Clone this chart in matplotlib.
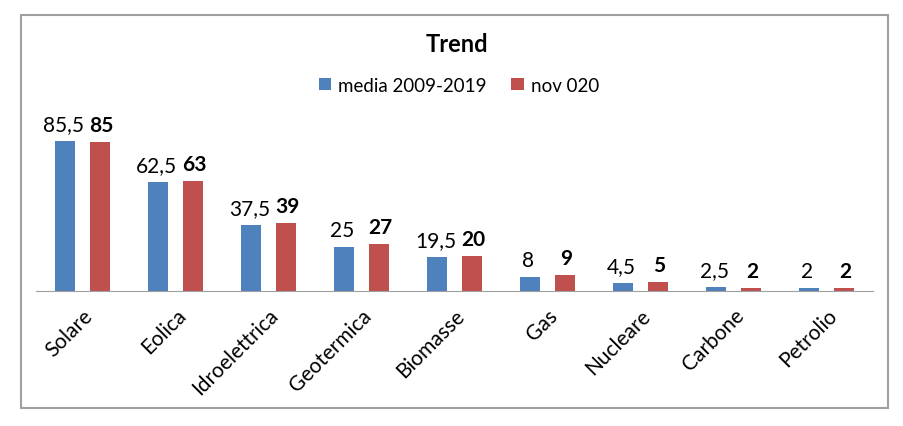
import matplotlib.pyplot as plt
import numpy as np
from matplotlib.patches import Rectangle

plt.rcParams['font.family'] = ['Lato', 'DejaVu Sans']

categories = ['Solare', 'Eolica', 'Idroelettrica', 'Geotermica', 'Biomasse',
              'Gas', 'Nucleare', 'Carbone', 'Petrolio']
media = [85.5, 62.5, 37.5, 25, 19.5, 8, 4.5, 2.5, 2]
nov = [85, 63, 39, 27, 20, 9, 5, 2, 2]
media_labels = ['85,5', '62,5', '37,5', '25', '19,5', '8', '4,5', '2,5', '2']
nov_labels = ['85', '63', '39', '27', '20', '9', '5', '2', '2']

blue = '#4F81BD'
red = '#C0504D'

fig = plt.figure(figsize=(9.04, 4.27), dpi=100)
# outer border
fig.patches.append(Rectangle((21 / 904, 1 - 409 / 427), 867 / 904, 393 / 427,
                             transform=fig.transFigure, fill=False,
                             edgecolor='#A0A0A0', linewidth=1.5))

ax = fig.add_axes([36 / 904, 135 / 427, 837 / 904, 182 / 427])
x = np.arange(len(categories))
w = 0.215
b1 = ax.bar(x - 0.19, media, w, color=blue, label='media 2009-2019')
b2 = ax.bar(x + 0.19, nov, w, color=red, label='nov 020')

for rect, lab in zip(b1, media_labels):
    ax.annotate(lab, (rect.get_x() + rect.get_width() / 2, rect.get_height()),
                xytext=(-1, 5), textcoords='offset points', ha='center', va='bottom',
                fontsize=15)
for rect, lab in zip(b2, nov_labels):
    ax.annotate(lab, (rect.get_x() + rect.get_width() / 2, rect.get_height()),
                xytext=(1, 5), textcoords='offset points', ha='center', va='bottom',
                fontsize=15, fontweight='bold')

ax.set_xlim(-0.5, len(categories) - 0.5)
ax.set_ylim(0, 104)
for s in ['top', 'right', 'left']:
    ax.spines[s].set_visible(False)
ax.spines['bottom'].set_color('#A0A0A0')
ax.set_yticks([])
ax.set_xticks(x)
ax.set_xticklabels(categories, rotation=45, ha='right', rotation_mode='anchor',
                   fontsize=15)
ax.tick_params(axis='x', length=0, pad=10)

fig.text(457 / 904, 1 - 44 / 427, 'Trend', ha='center', va='center',
         fontsize=17, fontweight='bold')
fig.legend(loc='center', bbox_to_anchor=(459 / 904, 1 - 86 / 427), ncol=2,
           frameon=False, fontsize=13.5, handlelength=0.65, handleheight=0.65,
           handletextpad=0.4, columnspacing=1.3)

fig.savefig('out.png', dpi=100)
